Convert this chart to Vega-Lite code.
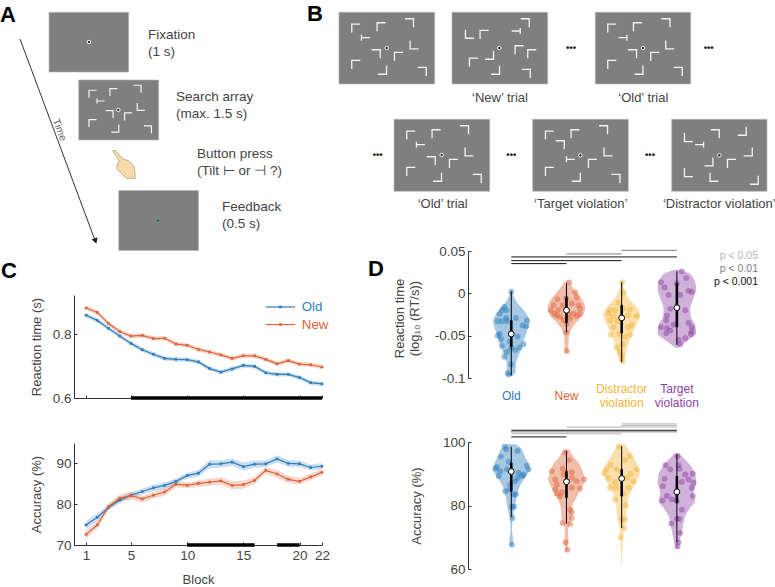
{
"$schema":"https://vega.github.io/schema/vega-lite/v6.json",
"padding":0,
"background":"white",
"bounds":"flush",
"spacing":0,
"resolve":{"scale":{"color":"independent","stroke":"independent"}},
"config":{"font":"Liberation Sans","view":{"stroke":null},"text":{"color":"#444"},
"axis":{"grid":false,"domainColor":"#333","tickColor":"#333","labelColor":"#444","titleColor":"#444","labelFont":"Liberation Sans","titleFont":"Liberation Sans","labelFontSize":13.5,"titleFontSize":13,"titleFontWeight":"normal","tickSize":-3,"labelPadding":6,"domainWidth":1,"tickWidth":1,"labelFlush":false}},
"datasets":{
"screens":[{"x":49,"x2":128.7,"y":12.3,"y2":72},{"x":78.7,"x2":158.7,"y":80,"y2":140},{"x":118.7,"x2":198.5,"y":190.5,"y2":250.5},{"x":339,"x2":434.7,"y":12.3,"y2":84},{"x":452,"x2":547.7,"y":12.3,"y2":84},{"x":595.3,"x2":690.7,"y":12.3,"y2":84},{"x":394,"x2":489.7,"y":119.3,"y2":191.3},{"x":532.7,"x2":628.3,"y":119.3,"y2":191.3},{"x":671.7,"x2":767,"y":119.3,"y2":191.3}],
"glyphsA":[{"x":92.7,"y":94,"g":"TL"},{"x":100.7,"y":101,"g":"Tr"},{"x":113.7,"y":92.3,"g":"TL"},{"x":137.3,"y":89,"g":"TR"},{"x":141,"y":106.7,"g":"BL"},{"x":109.3,"y":114.3,"g":"TR"},{"x":128.3,"y":116.7,"g":"TL"},{"x":92.7,"y":123.3,"g":"TL"},{"x":115,"y":128.3,"g":"BR"},{"x":147.7,"y":129.7,"g":"TR"}],
"glyphsB":[{"x":356,"y":28.3,"g":"TL"},{"x":365.7,"y":37.7,"g":"Tr"},{"x":381.3,"y":27,"g":"TL"},{"x":409.3,"y":23,"g":"TR"},{"x":414.3,"y":44.7,"g":"BL"},{"x":376,"y":54,"g":"TR"},{"x":398.7,"y":56.7,"g":"TL"},{"x":356,"y":64.7,"g":"TL"},{"x":382.3,"y":70,"g":"BR"},{"x":422,"y":71.7,"g":"TR"},
{"x":469.7,"y":34,"g":"BL"},{"x":484.3,"y":34.7,"g":"TL"},{"x":516,"y":31,"g":"Tl"},{"x":525,"y":23,"g":"TR"},{"x":519.3,"y":50,"g":"TL"},{"x":532,"y":54,"g":"TL"},{"x":489.3,"y":55,"g":"BR"},{"x":473.7,"y":62.3,"g":"TL"},{"x":495.3,"y":70,"g":"BR"},{"x":526,"y":73.7,"g":"TR"},
{"x":612,"y":28.3,"g":"TL"},{"x":622.7,"y":37.7,"g":"Tl"},{"x":637.7,"y":27,"g":"TL"},{"x":665.7,"y":23,"g":"TR"},{"x":670,"y":44.7,"g":"BL"},{"x":632.3,"y":54,"g":"TR"},{"x":655,"y":56.7,"g":"TL"},{"x":612,"y":64.7,"g":"TL"},{"x":638.7,"y":70,"g":"BR"},{"x":678,"y":71.7,"g":"TR"},
{"x":411,"y":135.3,"g":"TL"},{"x":420.7,"y":144.7,"g":"Tr"},{"x":436.3,"y":134,"g":"TL"},{"x":464.3,"y":130,"g":"TR"},{"x":469.3,"y":151.7,"g":"BL"},{"x":431,"y":161,"g":"TR"},{"x":453.7,"y":163.7,"g":"TL"},{"x":411,"y":171.7,"g":"TL"},{"x":437.3,"y":177,"g":"BR"},{"x":477,"y":178.7,"g":"TR"},
{"x":549.7,"y":135.3,"g":"TL"},{"x":560,"y":145,"g":"TR"},{"x":575.3,"y":134,"g":"TL"},{"x":603.3,"y":130,"g":"TR"},{"x":608.3,"y":151.7,"g":"BL"},{"x":570.7,"y":159.3,"g":"Tr"},{"x":592.7,"y":163.7,"g":"TL"},{"x":549.7,"y":171.7,"g":"TL"},{"x":576,"y":177,"g":"BR"},{"x":615.7,"y":178.7,"g":"TR"},
{"x":688.7,"y":137.3,"g":"BL"},{"x":699.3,"y":144.7,"g":"Tl"},{"x":715,"y":134,"g":"TR"},{"x":742,"y":131,"g":"BR"},{"x":748,"y":151.7,"g":"BR"},{"x":708.7,"y":161.7,"g":"BR"},{"x":731.7,"y":163.7,"g":"TL"},{"x":688.7,"y":172.3,"g":"BL"},{"x":714.3,"y":177,"g":"BL"},{"x":754,"y":180,"g":"BR"}],
"fix":[{"x":89,"y":42},{"x":118.3,"y":110},{"x":386.7,"y":48},{"x":499.3,"y":48},{"x":643,"y":48},{"x":441.7,"y":155},{"x":580.3,"y":155.3},{"x":719.3,"y":155.3}],
"arrow":[{"x":20,"y":39},{"x":96,"y":243}],
"textA":[{"x":148,"y":35,"t":"Fixation"},{"x":148,"y":52,"t":"(1 s)"},{"x":176,"y":97,"t":"Search array"},{"x":176,"y":114,"t":"(max. 1.5 s)"},{"x":197,"y":154,"t":"Button press"},{"x":197,"y":171,"t":"(Tilt ⊢ or ⊣ ?)"},{"x":222,"y":207,"t":"Feedback"},{"x":222,"y":224,"t":"(0.5 s)"}],
"textB":[{"x":500,"y":97.7,"t":"‘New’ trial"},{"x":643.3,"y":97.7,"t":"‘Old’ trial"},{"x":442.7,"y":204,"t":"‘Old’ trial"},{"x":580.7,"y":204,"t":"‘Target violation’"},{"x":719.3,"y":204,"t":"‘Distractor violation’"}],
"dots":[{"x":571,"y":48,"t":"•••"},{"x":708.7,"y":48,"t":"•••"},{"x":377.7,"y":155.3,"t":"•••"},{"x":511.3,"y":155.3,"t":"•••"},{"x":650,"y":155.3,"t":"•••"}],
"letters":[{"x":0,"y":15,"t":"A"},{"x":307,"y":14,"t":"B"},{"x":1,"y":271,"t":"C"},{"x":368,"y":269,"t":"D"}],
"plegend":[{"x":758,"y":256,"t":"p < 0.05","p":"a"},{"x":758,"y":269,"t":"p < 0.01","p":"b"},{"x":758,"y":282,"t":"p < 0.001","p":"c"}],
"c":[
{"b":1,"s":"Old","rt":0.859,"lo":0.852,"hi":0.866,"acc":74.9,"alo":73.9,"ahi":75.9},{"b":2,"s":"Old","rt":0.843,"lo":0.836,"hi":0.85,"acc":76.8,"alo":75.9,"ahi":77.7},{"b":3,"s":"Old","rt":0.818,"lo":0.811,"hi":0.825,"acc":79.2,"alo":78.5,"ahi":79.9},{"b":4,"s":"Old","rt":0.794,"lo":0.787,"hi":0.801,"acc":81,"alo":80.3,"ahi":81.7},{"b":5,"s":"Old","rt":0.771,"lo":0.764,"hi":0.778,"acc":82.2,"alo":81.5,"ahi":82.9},{"b":6,"s":"Old","rt":0.751,"lo":0.744,"hi":0.758,"acc":83.1,"alo":82.4,"ahi":83.8},{"b":7,"s":"Old","rt":0.737,"lo":0.73,"hi":0.744,"acc":84,"alo":83.2,"ahi":84.8},{"b":8,"s":"Old","rt":0.724,"lo":0.717,"hi":0.731,"acc":84.6,"alo":83.8,"ahi":85.4},{"b":9,"s":"Old","rt":0.721,"lo":0.714,"hi":0.728,"acc":85.6,"alo":84.9,"ahi":86.3},{"b":10,"s":"Old","rt":0.72,"lo":0.713,"hi":0.727,"acc":87,"alo":86.3,"ahi":87.7},{"b":11,"s":"Old","rt":0.713,"lo":0.706,"hi":0.72,"acc":87.6,"alo":86.8,"ahi":88.4},{"b":12,"s":"Old","rt":0.692,"lo":0.685,"hi":0.699,"acc":89.8,"alo":88.8,"ahi":90.8},{"b":13,"s":"Old","rt":0.681,"lo":0.674,"hi":0.688,"acc":89.9,"alo":89,"ahi":90.8},{"b":14,"s":"Old","rt":0.691,"lo":0.684,"hi":0.698,"acc":90.3,"alo":89.4,"ahi":91.2},{"b":15,"s":"Old","rt":0.702,"lo":0.695,"hi":0.709,"acc":89.2,"alo":88.2,"ahi":90.2},{"b":16,"s":"Old","rt":0.699,"lo":0.692,"hi":0.706,"acc":89.8,"alo":88.9,"ahi":90.7},{"b":17,"s":"Old","rt":0.679,"lo":0.672,"hi":0.686,"acc":89.9,"alo":89.1,"ahi":90.7},{"b":18,"s":"Old","rt":0.674,"lo":0.667,"hi":0.681,"acc":91.1,"alo":90.2,"ahi":92},{"b":19,"s":"Old","rt":0.674,"lo":0.667,"hi":0.681,"acc":90,"alo":89.2,"ahi":90.8},{"b":20,"s":"Old","rt":0.664,"lo":0.657,"hi":0.671,"acc":89.9,"alo":89.1,"ahi":90.7},{"b":21,"s":"Old","rt":0.648,"lo":0.641,"hi":0.655,"acc":89,"alo":88.3,"ahi":89.7},{"b":22,"s":"Old","rt":0.644,"lo":0.637,"hi":0.651,"acc":89.3,"alo":88.5,"ahi":90.1},
{"b":1,"s":"New","rt":0.882,"lo":0.875,"hi":0.889,"acc":72.6,"alo":71.6,"ahi":73.6},{"b":2,"s":"New","rt":0.868,"lo":0.861,"hi":0.875,"acc":74.9,"alo":74,"ahi":75.8},{"b":3,"s":"New","rt":0.833,"lo":0.826,"hi":0.84,"acc":79.4,"alo":78.6,"ahi":80.2},{"b":4,"s":"New","rt":0.808,"lo":0.801,"hi":0.815,"acc":81.5,"alo":80.6,"ahi":82.4},{"b":5,"s":"New","rt":0.794,"lo":0.787,"hi":0.801,"acc":82.1,"alo":81.1,"ahi":83.1},{"b":6,"s":"New","rt":0.796,"lo":0.789,"hi":0.803,"acc":81.3,"alo":80.5,"ahi":82.1},{"b":7,"s":"New","rt":0.786,"lo":0.779,"hi":0.793,"acc":82.2,"alo":81.4,"ahi":83},{"b":8,"s":"New","rt":0.787,"lo":0.78,"hi":0.794,"acc":83,"alo":82.1,"ahi":83.9},{"b":9,"s":"New","rt":0.769,"lo":0.762,"hi":0.776,"acc":84.9,"alo":84.1,"ahi":85.7},{"b":10,"s":"New","rt":0.765,"lo":0.758,"hi":0.772,"acc":84.6,"alo":83.9,"ahi":85.3},{"b":11,"s":"New","rt":0.752,"lo":0.745,"hi":0.759,"acc":85.1,"alo":84.3,"ahi":85.9},{"b":12,"s":"New","rt":0.744,"lo":0.737,"hi":0.751,"acc":85.4,"alo":84.5,"ahi":86.3},{"b":13,"s":"New","rt":0.735,"lo":0.728,"hi":0.742,"acc":85.7,"alo":84.8,"ahi":86.6},{"b":14,"s":"New","rt":0.724,"lo":0.717,"hi":0.731,"acc":84.6,"alo":83.6,"ahi":85.6},{"b":15,"s":"New","rt":0.732,"lo":0.725,"hi":0.739,"acc":84.8,"alo":83.8,"ahi":85.8},{"b":16,"s":"New","rt":0.732,"lo":0.725,"hi":0.739,"acc":85.8,"alo":84.9,"ahi":86.7},{"b":17,"s":"New","rt":0.721,"lo":0.714,"hi":0.728,"acc":88.3,"alo":87.5,"ahi":89.1},{"b":18,"s":"New","rt":0.707,"lo":0.7,"hi":0.714,"acc":87.4,"alo":86.4,"ahi":88.4},{"b":19,"s":"New","rt":0.717,"lo":0.71,"hi":0.724,"acc":86.1,"alo":85.2,"ahi":87},{"b":20,"s":"New","rt":0.706,"lo":0.699,"hi":0.713,"acc":85.6,"alo":84.8,"ahi":86.4},{"b":21,"s":"New","rt":0.704,"lo":0.697,"hi":0.711,"acc":86.7,"alo":85.9,"ahi":87.5},{"b":22,"s":"New","rt":0.697,"lo":0.69,"hi":0.704,"acc":87.8,"alo":86.9,"ahi":88.7}],
"v1":[
{"g":"Old","y":0.004,"lo":0.988,"hi":1.012},{"g":"Old","y":-0.004,"lo":0.952,"hi":1.048},{"g":"Old","y":-0.012,"lo":0.88,"hi":1.12},{"g":"Old","y":-0.018,"lo":0.801,"hi":1.199},{"g":"Old","y":-0.026,"lo":0.711,"hi":1.289},{"g":"Old","y":-0.033,"lo":0.669,"hi":1.331},{"g":"Old","y":-0.041,"lo":0.699,"hi":1.301},{"g":"Old","y":-0.055,"lo":0.771,"hi":1.229},{"g":"Old","y":-0.071,"lo":0.85,"hi":1.15},{"g":"Old","y":-0.083,"lo":0.916,"hi":1.084},{"g":"Old","y":-0.093,"lo":0.922,"hi":1.078},{"g":"Old","y":-0.098,"lo":0.988,"hi":1.012},
{"g":"New","y":0.015,"lo":1.982,"hi":2.018},{"g":"New","y":0.008,"lo":1.904,"hi":2.096},{"g":"New","y":0,"lo":1.807,"hi":2.193},{"g":"New","y":-0.008,"lo":1.711,"hi":2.289},{"g":"New","y":-0.018,"lo":1.663,"hi":2.337},{"g":"New","y":-0.026,"lo":1.699,"hi":2.301},{"g":"New","y":-0.035,"lo":1.831,"hi":2.169},{"g":"New","y":-0.043,"lo":1.916,"hi":2.084},{"g":"New","y":-0.053,"lo":1.958,"hi":2.042},{"g":"New","y":-0.063,"lo":1.964,"hi":2.036},{"g":"New","y":-0.071,"lo":1.988,"hi":2.012},
{"g":"Distractor","y":0.015,"lo":2.988,"hi":3.012},{"g":"Distractor","y":0.004,"lo":2.952,"hi":3.048},{"g":"Distractor","y":-0.008,"lo":2.85,"hi":3.15},{"g":"Distractor","y":-0.018,"lo":2.711,"hi":3.289},{"g":"Distractor","y":-0.026,"lo":2.663,"hi":3.337},{"g":"Distractor","y":-0.033,"lo":2.699,"hi":3.301},{"g":"Distractor","y":-0.043,"lo":2.771,"hi":3.229},{"g":"Distractor","y":-0.055,"lo":2.85,"hi":3.15},{"g":"Distractor","y":-0.067,"lo":2.91,"hi":3.09},{"g":"Distractor","y":-0.077,"lo":2.94,"hi":3.06},{"g":"Distractor","y":-0.083,"lo":2.988,"hi":3.012},
{"g":"Target","y":0.028,"lo":3.97,"hi":4.03},{"g":"Target","y":0.024,"lo":3.789,"hi":4.211},{"g":"Target","y":0.016,"lo":3.687,"hi":4.313},{"g":"Target","y":0.006,"lo":3.651,"hi":4.349},{"g":"Target","y":-0.006,"lo":3.699,"hi":4.301},{"g":"Target","y":-0.018,"lo":3.759,"hi":4.241},{"g":"Target","y":-0.028,"lo":3.747,"hi":4.253},{"g":"Target","y":-0.037,"lo":3.669,"hi":4.331},{"g":"Target","y":-0.047,"lo":3.651,"hi":4.349},{"g":"Target","y":-0.055,"lo":3.789,"hi":4.211},{"g":"Target","y":-0.064,"lo":3.97,"hi":4.03}],
"v2":[
{"g":"Old","y":99.3,"lo":0.928,"hi":1.072},{"g":"Old","y":98.2,"lo":0.831,"hi":1.169},{"g":"Old","y":96.1,"lo":0.771,"hi":1.229},{"g":"Old","y":93.5,"lo":0.699,"hi":1.301},{"g":"Old","y":91.4,"lo":0.669,"hi":1.331},{"g":"Old","y":89.3,"lo":0.729,"hi":1.271},{"g":"Old","y":86.6,"lo":0.831,"hi":1.169},{"g":"Old","y":83.5,"lo":0.892,"hi":1.108},{"g":"Old","y":79.8,"lo":0.928,"hi":1.072},{"g":"Old","y":76.1,"lo":0.97,"hi":1.03},{"g":"Old","y":72.4,"lo":0.988,"hi":1.012},{"g":"Old","y":68.7,"lo":0.964,"hi":1.036},{"g":"Old","y":67,"lo":0.988,"hi":1.012},
{"g":"New","y":97.7,"lo":1.952,"hi":2.048},{"g":"New","y":95.6,"lo":1.88,"hi":2.12},{"g":"New","y":92.9,"lo":1.759,"hi":2.241},{"g":"New","y":90.3,"lo":1.699,"hi":2.301},{"g":"New","y":88.2,"lo":1.669,"hi":2.331},{"g":"New","y":85.6,"lo":1.729,"hi":2.271},{"g":"New","y":82.9,"lo":1.807,"hi":2.193},{"g":"New","y":79.8,"lo":1.892,"hi":2.108},{"g":"New","y":75.6,"lo":1.916,"hi":2.084},{"g":"New","y":72.4,"lo":1.97,"hi":2.03},{"g":"New","y":68.7,"lo":1.964,"hi":2.036},{"g":"New","y":65.3,"lo":1.988,"hi":2.012},
{"g":"Distractor","y":99.4,"lo":2.952,"hi":3.048},{"g":"Distractor","y":97.7,"lo":2.88,"hi":3.12},{"g":"Distractor","y":95.1,"lo":2.789,"hi":3.211},{"g":"Distractor","y":92.4,"lo":2.699,"hi":3.301},{"g":"Distractor","y":90.3,"lo":2.669,"hi":3.331},{"g":"Distractor","y":88.2,"lo":2.711,"hi":3.289},{"g":"Distractor","y":85.1,"lo":2.807,"hi":3.193},{"g":"Distractor","y":81.4,"lo":2.892,"hi":3.108},{"g":"Distractor","y":76.6,"lo":2.916,"hi":3.084},{"g":"Distractor","y":72.4,"lo":2.964,"hi":3.036},{"g":"Distractor","y":69.3,"lo":2.976,"hi":3.024},{"g":"Distractor","y":65.1,"lo":2.988,"hi":3.012},{"g":"Distractor","y":61.4,"lo":2.994,"hi":3.006},
{"g":"Target","y":96.4,"lo":3.964,"hi":4.036},{"g":"Target","y":94.5,"lo":3.85,"hi":4.15},{"g":"Target","y":92.4,"lo":3.747,"hi":4.253},{"g":"Target","y":89.8,"lo":3.669,"hi":4.331},{"g":"Target","y":87.2,"lo":3.651,"hi":4.349},{"g":"Target","y":84,"lo":3.699,"hi":4.301},{"g":"Target","y":81.4,"lo":3.669,"hi":4.331},{"g":"Target","y":79.3,"lo":3.759,"hi":4.241},{"g":"Target","y":76.6,"lo":3.85,"hi":4.15},{"g":"Target","y":73.5,"lo":3.892,"hi":4.108},{"g":"Target","y":69.3,"lo":3.94,"hi":4.06},{"g":"Target","y":66.3,"lo":3.982,"hi":4.018}],
"p1":[
{"g":"Old","x":1,"y":0.002},{"g":"Old","x":0.873,"y":-0.016},{"g":"Old","x":0.831,"y":-0.02},{"g":"Old","x":0.91,"y":-0.02},{"g":"Old","x":0.789,"y":-0.024},{"g":"Old","x":1.084,"y":-0.029},{"g":"Old","x":0.91,"y":-0.029},{"g":"Old","x":0.831,"y":-0.033},{"g":"Old","x":0.753,"y":-0.033},{"g":"Old","x":0.922,"y":-0.033},{"g":"Old","x":1.283,"y":-0.032},{"g":"Old","x":1.205,"y":-0.038},{"g":"Old","x":1.271,"y":-0.039},{"g":"Old","x":0.789,"y":-0.048},{"g":"Old","x":0.753,"y":-0.05},{"g":"Old","x":0.994,"y":-0.047},{"g":"Old","x":0.813,"y":-0.054},{"g":"Old","x":0.97,"y":-0.057},{"g":"Old","x":0.831,"y":-0.062},{"g":"Old","x":1.223,"y":-0.06},{"g":"Old","x":1.151,"y":-0.064},{"g":"Old","x":1,"y":-0.064},{"g":"Old","x":1.072,"y":-0.067},{"g":"Old","x":0.922,"y":-0.069},{"g":"Old","x":0.873,"y":-0.075},{"g":"Old","x":1,"y":-0.084},{"g":"Old","x":0.934,"y":-0.094},{"g":"Old","x":0.952,"y":-0.096},{"g":"Old","x":1.114,"y":-0.051},
{"g":"New","x":2.054,"y":0.013},{"g":"New","x":2.157,"y":0.001},{"g":"New","x":1.994,"y":-0.006},{"g":"New","x":2.187,"y":-0.005},{"g":"New","x":1.837,"y":-0.007},{"g":"New","x":2.217,"y":-0.014},{"g":"New","x":1.765,"y":-0.014},{"g":"New","x":1.934,"y":-0.014},{"g":"New","x":2.096,"y":-0.012},{"g":"New","x":1.717,"y":-0.02},{"g":"New","x":1.855,"y":-0.02},{"g":"New","x":2.235,"y":-0.024},{"g":"New","x":2.127,"y":-0.024},{"g":"New","x":1.825,"y":-0.026},{"g":"New","x":1.886,"y":-0.028},{"g":"New","x":2.066,"y":-0.03},{"g":"New","x":1.946,"y":-0.032},{"g":"New","x":2.187,"y":-0.027},{"g":"New","x":2.006,"y":-0.036},{"g":"New","x":1.994,"y":-0.046},{"g":"New","x":2.006,"y":-0.068},{"g":"New","x":1.777,"y":-0.024},{"g":"New","x":2.036,"y":-0.024},{"g":"New","x":2.247,"y":-0.018},
{"g":"Distractor","x":3.012,"y":0.013},{"g":"Distractor","x":3.03,"y":0.001},{"g":"Distractor","x":2.94,"y":-0.011},{"g":"Distractor","x":2.789,"y":-0.02},{"g":"Distractor","x":2.88,"y":-0.02},{"g":"Distractor","x":2.759,"y":-0.024},{"g":"Distractor","x":3.03,"y":-0.018},{"g":"Distractor","x":3.15,"y":-0.019},{"g":"Distractor","x":3.271,"y":-0.027},{"g":"Distractor","x":3.12,"y":-0.026},{"g":"Distractor","x":2.85,"y":-0.027},{"g":"Distractor","x":2.789,"y":-0.032},{"g":"Distractor","x":2.922,"y":-0.033},{"g":"Distractor","x":3.12,"y":-0.04},{"g":"Distractor","x":3.18,"y":-0.037},{"g":"Distractor","x":2.85,"y":-0.04},{"g":"Distractor","x":2.801,"y":-0.049},{"g":"Distractor","x":2.958,"y":-0.048},{"g":"Distractor","x":3.15,"y":-0.049},{"g":"Distractor","x":3.06,"y":-0.051},{"g":"Distractor","x":3.018,"y":-0.06},{"g":"Distractor","x":2.91,"y":-0.064},{"g":"Distractor","x":2.97,"y":-0.069},{"g":"Distractor","x":3,"y":-0.073},{"g":"Distractor","x":3.012,"y":-0.08},
{"g":"Target","x":4.09,"y":0.026},{"g":"Target","x":3.711,"y":0.013},{"g":"Target","x":3.777,"y":0.007},{"g":"Target","x":4,"y":0.012},{"g":"Target","x":4.169,"y":0.018},{"g":"Target","x":4.271,"y":0.002},{"g":"Target","x":4.211,"y":0.003},{"g":"Target","x":3.849,"y":-0.002},{"g":"Target","x":4.06,"y":-0.002},{"g":"Target","x":3.88,"y":-0.018},{"g":"Target","x":4.151,"y":-0.02},{"g":"Target","x":3.82,"y":-0.026},{"g":"Target","x":3.807,"y":-0.032},{"g":"Target","x":3.94,"y":-0.037},{"g":"Target","x":3.711,"y":-0.04},{"g":"Target","x":3.82,"y":-0.041},{"g":"Target","x":3.88,"y":-0.044},{"g":"Target","x":4.271,"y":-0.04},{"g":"Target","x":4.271,"y":-0.045},{"g":"Target","x":4.253,"y":-0.048},{"g":"Target","x":3.807,"y":-0.047},{"g":"Target","x":4.151,"y":-0.053},{"g":"Target","x":4.06,"y":-0.06},{"g":"Target","x":4.211,"y":-0.035},{"g":"Target","x":4.03,"y":-0.055}],
"p2":[
{"g":"Old","x":0.88,"y":98.5},{"g":"Old","x":0.91,"y":97.7},{"g":"Old","x":1.114,"y":97.2},{"g":"Old","x":0.813,"y":95.4},{"g":"Old","x":0.952,"y":93.7},{"g":"Old","x":1.283,"y":92.6},{"g":"Old","x":0.741,"y":92.1},{"g":"Old","x":1.313,"y":91.4},{"g":"Old","x":0.711,"y":91.6},{"g":"Old","x":0.8,"y":90.8},{"g":"Old","x":0.922,"y":91.4},{"g":"Old","x":0.771,"y":89.3},{"g":"Old","x":1.193,"y":89.3},{"g":"Old","x":1.114,"y":88.7},{"g":"Old","x":1.072,"y":87.7},{"g":"Old","x":0.982,"y":86.6},{"g":"Old","x":0.97,"y":85.1},{"g":"Old","x":0.892,"y":84.5},{"g":"Old","x":1.042,"y":83.5},{"g":"Old","x":1.084,"y":83.5},{"g":"Old","x":1.012,"y":79.6},{"g":"Old","x":1.054,"y":79.6},{"g":"Old","x":1.024,"y":76.1},{"g":"Old","x":1.012,"y":67.7},{"g":"Old","x":1.133,"y":90.3},{"g":"Old","x":1.223,"y":89.8},
{"g":"New","x":1.976,"y":96.6},{"g":"New","x":2.048,"y":94.3},{"g":"New","x":1.735,"y":90.8},{"g":"New","x":1.934,"y":91.6},{"g":"New","x":2.096,"y":90.5},{"g":"New","x":2.096,"y":88.7},{"g":"New","x":1.795,"y":88.2},{"g":"New","x":2.319,"y":88.2},{"g":"New","x":2.247,"y":85.4},{"g":"New","x":2.096,"y":85.6},{"g":"New","x":1.795,"y":85.1},{"g":"New","x":1.825,"y":83.8},{"g":"New","x":1.886,"y":82.9},{"g":"New","x":1.916,"y":84.2},{"g":"New","x":2.066,"y":78.7},{"g":"New","x":2.096,"y":77.9},{"g":"New","x":2.096,"y":76.1},{"g":"New","x":1.928,"y":74.5},{"g":"New","x":2.066,"y":74.2},{"g":"New","x":1.982,"y":68.4},{"g":"New","x":2.018,"y":66.1},{"g":"New","x":1.825,"y":86.6},{"g":"New","x":2.187,"y":87.7},{"g":"New","x":1.946,"y":89.8},
{"g":"Distractor","x":2.952,"y":98.5},{"g":"Distractor","x":3.15,"y":95.6},{"g":"Distractor","x":3.06,"y":94.3},{"g":"Distractor","x":2.801,"y":92.7},{"g":"Distractor","x":2.717,"y":91.4},{"g":"Distractor","x":2.91,"y":91.4},{"g":"Distractor","x":3.271,"y":91.4},{"g":"Distractor","x":2.681,"y":90},{"g":"Distractor","x":3.163,"y":90},{"g":"Distractor","x":3.09,"y":88.7},{"g":"Distractor","x":2.76,"y":88.7},{"g":"Distractor","x":3.211,"y":87.7},{"g":"Distractor","x":2.88,"y":87.4},{"g":"Distractor","x":2.789,"y":85.6},{"g":"Distractor","x":2.898,"y":85.6},{"g":"Distractor","x":3.12,"y":85.6},{"g":"Distractor","x":3.03,"y":83.8},{"g":"Distractor","x":2.88,"y":81.9},{"g":"Distractor","x":3.078,"y":80},{"g":"Distractor","x":3.06,"y":75.6},{"g":"Distractor","x":3,"y":75.6},{"g":"Distractor","x":3.048,"y":72.9},{"g":"Distractor","x":2.982,"y":70},
{"g":"Target","x":4.012,"y":95.6},{"g":"Target","x":3.795,"y":92.7},{"g":"Target","x":4.03,"y":92.7},{"g":"Target","x":3.88,"y":91.4},{"g":"Target","x":4.048,"y":91.6},{"g":"Target","x":4.151,"y":89.8},{"g":"Target","x":4.289,"y":90},{"g":"Target","x":3.777,"y":88.4},{"g":"Target","x":4.211,"y":88.2},{"g":"Target","x":4.301,"y":87.2},{"g":"Target","x":4.09,"y":87.4},{"g":"Target","x":3.747,"y":86.1},{"g":"Target","x":4.271,"y":85.6},{"g":"Target","x":3.82,"y":83},{"g":"Target","x":4.289,"y":83},{"g":"Target","x":3.741,"y":81.6},{"g":"Target","x":3.91,"y":81.9},{"g":"Target","x":4,"y":81.4},{"g":"Target","x":4.09,"y":78.7},{"g":"Target","x":4,"y":75.8},{"g":"Target","x":4.048,"y":75.8},{"g":"Target","x":3.898,"y":74.3},{"g":"Target","x":4.06,"y":71.4},{"g":"Target","x":4.03,"y":68.4},{"g":"Target","x":4.012,"y":67.2}],
"s1":[{"x":1,"wLo":-0.097,"wHi":0.002,"qLo":-0.063,"qHi":-0.032,"med":-0.048},{"x":2,"wLo":-0.046,"wHi":0.012,"qLo":-0.035,"qHi":-0.004,"med":-0.02},{"x":3,"wLo":-0.081,"wHi":0.013,"qLo":-0.047,"qHi":-0.014,"med":-0.029},{"x":4,"wLo":-0.061,"wHi":0.026,"qLo":-0.04,"qHi":0.012,"med":-0.017}],
"s2":[{"x":1,"wLo":76.4,"wHi":98.5,"qLo":84.5,"qHi":93.5,"med":90.7},{"x":2,"wLo":74.3,"wHi":97.2,"qLo":82.4,"qHi":90.8,"med":87.5},{"x":3,"wLo":72.9,"wHi":98.7,"qLo":82.9,"qHi":91.4,"med":88.5},{"x":4,"wLo":68.4,"wHi":96.1,"qLo":80.8,"qHi":89.3,"med":84.3}],
"sig1":[{"x":3,"x2":4,"y":0.0508,"p":"b"},{"x":2,"x2":3,"y":0.0465,"p":"b"},{"x":1,"x2":4,"y":0.043,"p":"c"},{"x":1,"x2":3,"y":0.0386,"p":"c"},{"x":1,"x2":2,"y":0.0351,"p":"c"}],
"sig2":[{"x":3,"x2":4,"y":105.7,"p":"a"},{"x":3,"x2":4,"y":105.2,"p":"a"},{"x":2,"x2":4,"y":104.7,"p":"a"},{"x":1,"x2":4,"y":103.7,"p":"c"},{"x":1,"x2":4,"y":103.2,"p":"b"},{"x":1,"x2":3,"y":102.6,"p":"a"},{"x":1,"x2":2,"y":101.6,"p":"c"}],
"dlabels":[{"x":1,"y":-0.121,"t":"Old","g":"Old"},{"x":2,"y":-0.121,"t":"New","g":"New"},{"x":3,"y":-0.1135,"t":"Distractor","g":"Distractor"},{"x":3,"y":-0.129,"t":"violation","g":"Distractor"},{"x":4,"y":-0.1135,"t":"Target","g":"Target"},{"x":4,"y":-0.129,"t":"violation","g":"Target"}]
},
"vconcat":[
{"width":775,"height":251,
"encoding":{"x":{"field":"x","type":"quantitative","scale":{"domain":[0,775]},"axis":null},"y":{"field":"y","type":"quantitative","scale":{"domain":[251,0]},"axis":null}},
"layer":[
{"data":{"name":"screens"},"mark":{"type":"rect","fill":"#7f7f7f","stroke":"#b8b8b8","strokeWidth":0.7},"encoding":{"x2":{"field":"x2"},"y2":{"field":"y2"}}},
{"data":{"name":"glyphsA"},"mark":{"type":"point","filled":false,"stroke":"#f4f4f4","strokeWidth":1.2,"size":56,"opacity":1},"encoding":{"shape":{"field":"g","type":"nominal","legend":null,"scale":{"domain":["TL","TR","BL","BR","Tr","Tl"],"range":["M-1,1L-1,-1L1,-1","M-1,-1L1,-1L1,1","M-1,-1L-1,1L1,1","M1,-1L1,1L-1,1","M-1,-0.7L-1,0.7M-1,0L1,0","M1,-0.7L1,0.7M1,0L-1,0"]}}}},
{"data":{"name":"glyphsB"},"mark":{"type":"point","filled":false,"stroke":"#f4f4f4","strokeWidth":1.3,"size":72,"opacity":1},"encoding":{"shape":{"field":"g","type":"nominal","legend":null}}},
{"data":{"name":"fix"},"mark":{"type":"point","shape":"circle","fill":"#222","fillOpacity":1,"stroke":"white","strokeWidth":1,"size":12,"opacity":1}},
{"data":{"values":[{"x":158,"y":220.5}]},"mark":{"type":"point","shape":"circle","fill":"#111","fillOpacity":1,"stroke":"#3fae49","strokeWidth":0.8,"size":5,"opacity":1}},
{"data":{"values":[{"x":124,"y":164}]},"mark":{"type":"point","shape":"M-0.75,-0.9L-0.55,-0.9L-0.1,-0.35L0.35,-0.2L0.7,0.2L0.75,0.95L0.15,0.95L-0.25,0.55L-0.5,0.3L-0.45,-0.05L-0.3,-0.15Z","fill":"#f8d9a8","fillOpacity":1,"stroke":"#8a7455","strokeWidth":0.5,"size":900,"opacity":1}},
{"data":{"name":"arrow"},"mark":{"type":"line","color":"#333","strokeWidth":1}},
{"data":{"values":[{"x":95.5,"y":241}]},"mark":{"type":"point","shape":"triangle-up","filled":true,"color":"#222","size":40,"angle":160,"opacity":1}},
{"data":{"values":[{"x":59.3,"y":130,"t":"Time"}]},"mark":{"type":"text","angle":70,"fontSize":10.5,"color":"#666"},"encoding":{"text":{"field":"t"}}},
{"data":{"name":"textA"},"mark":{"type":"text","align":"left","fontSize":13.5},"encoding":{"text":{"field":"t"}}},
{"data":{"name":"textB"},"mark":{"type":"text","align":"center","fontSize":13},"encoding":{"text":{"field":"t"}}},
{"data":{"name":"dots"},"mark":{"type":"text","align":"center","fontSize":9.5,"fontWeight":"bold","color":"#111"},"encoding":{"text":{"field":"t"}}},
{"data":{"name":"letters"},"mark":{"type":"text","align":"left","fontSize":22,"fontWeight":"bold","color":"#000"},"encoding":{"text":{"field":"t"}}},
{"data":{"name":"plegend"},"mark":{"type":"text","align":"right","fontSize":10.5},"encoding":{"text":{"field":"t"},"color":{"field":"p","type":"nominal","legend":null,"scale":{"domain":["a","b","c"],"range":["#b5b5b5","#808080","#111111"]}}}}
]},
{"hconcat":[
{"width":74,"height":10,"data":{"values":[{"a":1}]},"mark":"text","encoding":{"text":{"value":""}}},
{"vconcat":[
{"width":248,"height":44,"data":{"values":[{"a":1}]},"mark":"text","encoding":{"text":{"value":""}}},
{"width":248,"height":103,"data":{"name":"c"},
"encoding":{"x":{"field":"b","type":"quantitative","scale":{"domain":[-0.07,22],"nice":false,"zero":false},"axis":{"values":[1,5,10,15,20,22],"labels":false,"title":null}}},
"layer":[
{"mark":{"type":"area","opacity":0.25},"encoding":{"y":{"field":"lo","type":"quantitative","scale":{"domain":[0.6,0.9225],"nice":false,"zero":false},"axis":{"values":[0.6,0.8],"format":".1f","title":"Reaction time (s)","titleX":-31}},"y2":{"field":"hi"},"color":{"field":"s","type":"nominal","legend":null,"scale":{"domain":["Old","New"],"range":["#2e7dbd","#dd6239"]}}}},
{"mark":{"type":"line","strokeWidth":1.2},"encoding":{"y":{"field":"rt","type":"quantitative"},"color":{"field":"s","type":"nominal","legend":null}}},
{"mark":{"type":"point","shape":"square","filled":true,"size":7,"opacity":1},"encoding":{"y":{"field":"rt","type":"quantitative"},"color":{"field":"s","type":"nominal","legend":null}}},
{"data":{"values":[{"x":5,"x2":22,"y":0.6}]},"mark":{"type":"rule","color":"#000","strokeWidth":3.5},"encoding":{"x":{"field":"x","type":"quantitative"},"x2":{"field":"x2"},"y":{"field":"y","type":"quantitative"}}},
{"data":{"values":[{"x":17,"x2":19.6,"y":0.885,"s":"Old"},{"x":17,"x2":19.6,"y":0.83,"s":"New"}]},"mark":{"type":"rule","strokeWidth":1.2},"encoding":{"x":{"field":"x","type":"quantitative"},"x2":{"field":"x2"},"y":{"field":"y","type":"quantitative"},"color":{"field":"s","type":"nominal","legend":null}}},
{"data":{"values":[{"x":18.3,"y":0.885,"s":"Old"},{"x":18.3,"y":0.83,"s":"New"}]},"mark":{"type":"point","shape":"square","filled":true,"size":7,"opacity":1},"encoding":{"x":{"field":"x","type":"quantitative"},"y":{"field":"y","type":"quantitative"},"color":{"field":"s","type":"nominal","legend":null}}},
{"data":{"values":[{"x":20.2,"y":0.885,"s":"Old"},{"x":20.2,"y":0.83,"s":"New"}]},"mark":{"type":"text","align":"left","fontSize":13.3},"encoding":{"x":{"field":"x","type":"quantitative"},"y":{"field":"y","type":"quantitative"},"text":{"field":"s"},"color":{"field":"s","type":"nominal","legend":null}}}
]},
{"width":248,"height":45,"data":{"values":[{"a":1}]},"mark":"text","encoding":{"text":{"value":""}}},
{"width":248,"height":102,"data":{"name":"c"},
"encoding":{"x":{"field":"b","type":"quantitative","scale":{"domain":[-0.07,22],"nice":false,"zero":false},"axis":{"values":[1,5,10,15,20,22],"format":"d","title":"Block","titleY":28,"labelOverlap":false}}},
"layer":[
{"mark":{"type":"area","opacity":0.25},"encoding":{"y":{"field":"alo","type":"quantitative","scale":{"domain":[70,95],"nice":false,"zero":false},"axis":{"values":[70,80,90],"title":"Accuracy (%)","titleX":-31}},"y2":{"field":"ahi"},"color":{"field":"s","type":"nominal","legend":null,"scale":{"domain":["Old","New"],"range":["#2e7dbd","#dd6239"]}}}},
{"mark":{"type":"line","strokeWidth":1.2},"encoding":{"y":{"field":"acc","type":"quantitative"},"color":{"field":"s","type":"nominal","legend":null}}},
{"mark":{"type":"point","shape":"square","filled":true,"size":7,"opacity":1},"encoding":{"y":{"field":"acc","type":"quantitative"},"color":{"field":"s","type":"nominal","legend":null}}},
{"data":{"values":[{"x":10,"x2":16,"y":70},{"x":18,"x2":20,"y":70}]},"mark":{"type":"rule","color":"#000","strokeWidth":3.5},"encoding":{"x":{"field":"x","type":"quantitative"},"x2":{"field":"x2"},"y":{"field":"y","type":"quantitative"}}}
]}
],"spacing":0,"bounds":"flush","resolve":{"scale":{"color":"independent"}}},
{"width":394,"height":10,"data":{"values":[{"a":1}]},"mark":"text","encoding":{"text":{"value":""}}},
{"vconcat":[
{"width":276,"height":127,
"layer":[
{"data":{"name":"v1"},"mark":{"type":"area","orient":"horizontal","interpolate":"monotone","opacity":0.42},"encoding":{"y":{"field":"y","type":"quantitative","scale":{"domain":[-0.1,0.05],"nice":false,"zero":false},"axis":{"values":[-0.1,-0.05,0,0.05],"labelExpr":"''+datum.value","title":["Reaction time","(log₁₀ (RT/s))"],"titleX":-62,"titleY":67}},"x":{"field":"lo","type":"quantitative","scale":{"domain":[0.216,5.216],"nice":false,"zero":false},"axis":null},"x2":{"field":"hi"},"color":{"field":"g","type":"nominal","legend":null,"scale":{"domain":["Old","New","Distractor","Target"],"range":["#2e7dbd","#e0653a","#f2b53a","#8e44a4"]}}}},
{"data":{"name":"p1"},"mark":{"type":"point","shape":"circle","filled":true,"size":34,"opacity":0.5},"encoding":{"x":{"field":"x","type":"quantitative"},"y":{"field":"y","type":"quantitative"},"color":{"field":"g","type":"nominal","legend":null}}},
{"data":{"name":"s1"},"mark":{"type":"rule","color":"#000","strokeWidth":1},"encoding":{"x":{"field":"x","type":"quantitative"},"y":{"field":"wLo","type":"quantitative"},"y2":{"field":"wHi"}}},
{"data":{"name":"s1"},"mark":{"type":"rule","color":"#000","strokeWidth":2.6},"encoding":{"x":{"field":"x","type":"quantitative"},"y":{"field":"qLo","type":"quantitative"},"y2":{"field":"qHi"}}},
{"data":{"name":"s1"},"mark":{"type":"point","shape":"circle","fill":"white","fillOpacity":1,"stroke":"#000","strokeWidth":1,"size":34,"opacity":1},"encoding":{"x":{"field":"x","type":"quantitative"},"y":{"field":"med","type":"quantitative"}}},
{"data":{"name":"sig1"},"mark":{"type":"rule","strokeWidth":1},"encoding":{"x":{"field":"x","type":"quantitative"},"x2":{"field":"x2"},"y":{"field":"y","type":"quantitative"},"stroke":{"field":"p","type":"nominal","legend":null,"scale":{"domain":["a","b","c"],"range":["#b5b5b5","#808080","#111111"]}}}},
{"data":{"name":"dlabels"},"mark":{"type":"text","fontSize":12,"align":"center"},"encoding":{"x":{"field":"x","type":"quantitative"},"y":{"field":"y","type":"quantitative"},"text":{"field":"t"},"color":{"field":"g","type":"nominal","legend":null}}}
]},
{"width":276,"height":64,"data":{"values":[{"a":1}]},"mark":"text","encoding":{"text":{"value":""}}},
{"width":276,"height":127,
"layer":[
{"data":{"name":"v2"},"mark":{"type":"area","orient":"horizontal","interpolate":"monotone","opacity":0.42},"encoding":{"y":{"field":"y","type":"quantitative","scale":{"domain":[60,100],"nice":false,"zero":false},"axis":{"values":[60,80,100],"title":"Accuracy (%)","titleX":-45}},"x":{"field":"lo","type":"quantitative","scale":{"domain":[0.216,5.216],"nice":false,"zero":false},"axis":null},"x2":{"field":"hi"},"color":{"field":"g","type":"nominal","legend":null,"scale":{"domain":["Old","New","Distractor","Target"],"range":["#2e7dbd","#e0653a","#f2b53a","#8e44a4"]}}}},
{"data":{"name":"p2"},"mark":{"type":"point","shape":"circle","filled":true,"size":34,"opacity":0.5},"encoding":{"x":{"field":"x","type":"quantitative"},"y":{"field":"y","type":"quantitative"},"color":{"field":"g","type":"nominal","legend":null}}},
{"data":{"name":"s2"},"mark":{"type":"rule","color":"#000","strokeWidth":1},"encoding":{"x":{"field":"x","type":"quantitative"},"y":{"field":"wLo","type":"quantitative"},"y2":{"field":"wHi"}}},
{"data":{"name":"s2"},"mark":{"type":"rule","color":"#000","strokeWidth":2.6},"encoding":{"x":{"field":"x","type":"quantitative"},"y":{"field":"qLo","type":"quantitative"},"y2":{"field":"qHi"}}},
{"data":{"name":"s2"},"mark":{"type":"point","shape":"circle","fill":"white","fillOpacity":1,"stroke":"#000","strokeWidth":1,"size":34,"opacity":1},"encoding":{"x":{"field":"x","type":"quantitative"},"y":{"field":"med","type":"quantitative"}}},
{"data":{"name":"sig2"},"mark":{"type":"rule","strokeWidth":1},"encoding":{"x":{"field":"x","type":"quantitative"},"x2":{"field":"x2"},"y":{"field":"y","type":"quantitative"},"stroke":{"field":"p","type":"nominal","legend":null,"scale":{"domain":["a","b","c"],"range":["#b5b5b5","#808080","#111111"]}}}}
]}
],"spacing":0,"bounds":"flush","resolve":{"scale":{"color":"independent","stroke":"independent"}}}
],"spacing":0,"bounds":"flush","resolve":{"scale":{"color":"independent","stroke":"independent"}}}
]
}
